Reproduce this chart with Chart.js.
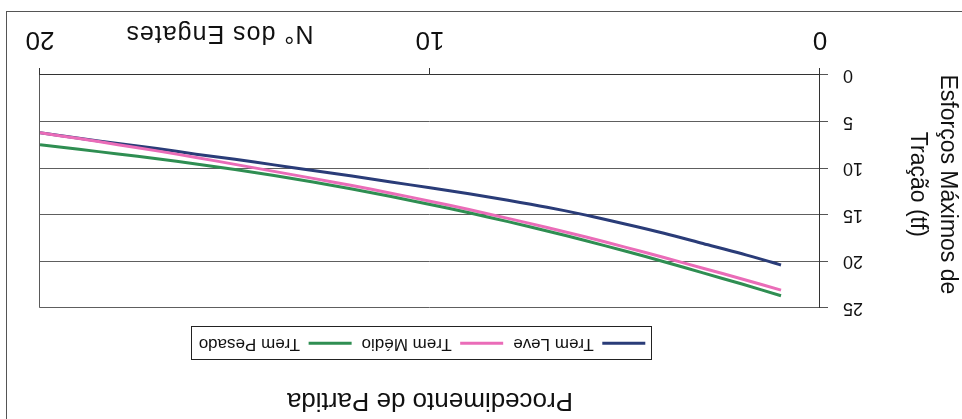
<!DOCTYPE html>
<html lang="pt">
<head>
<meta charset="utf-8">
<title>Procedimento de Partida</title>
<script src="https://cdn.jsdelivr.net/npm/chart.js@4.4.1/dist/chart.umd.min.js"></script>
<style>
  html, body { margin: 0; padding: 0; background: #fff; overflow: hidden; }
  /* the sheet is mounted upside down */
  #chart { display: block; width: 962px; height: 419px; transform: rotate(180deg); transform-origin: 50% 50%; }
</style>
</head>
<body>
<canvas id="chart" width="962" height="419"></canvas>
<script>
// ---- data -------------------------------------------------------------
const engates     = [1, 2, 3, 4, 5, 6, 7, 8, 9, 10, 11, 12, 13, 14, 15, 16, 17, 18, 19, 20];
const tremLeve    = [20.4, 19.2, 18.1, 17.0, 16.0, 15.05, 14.2, 13.45, 12.75, 12.1, 11.5, 10.85, 10.25, 9.65, 9.05, 8.5, 7.9, 7.35, 6.8, 6.2];
const tremMedio   = [23.1, 21.9, 20.75, 19.6, 18.48, 17.4, 16.37, 15.4, 14.45, 13.55, 12.69, 11.87, 11.1, 10.35, 9.6, 8.85, 8.15, 7.48, 6.83, 6.2];
const tremPesado  = [23.7, 22.45, 21.25, 20.05, 18.9, 17.8, 16.75, 15.75, 14.8, 13.9, 13.05, 12.25, 11.5, 10.8, 10.15, 9.55, 9.0, 8.48, 7.98, 7.5];
const seriesNames = ['Trem Leve', 'Trem Médio', 'Trem Pesado'];
const xTickValues = [0, 10, 20];
const yTickValues = [0, 5, 10, 15, 20, 25];
const chartTitle  = 'Procedimento de Partida';
const xAxisTitle  = 'N° dos Engates';
const yAxisTitle  = ['Esforços Máximos de', 'Tração (tf)'];

// ---- styling ----------------------------------------------------------
const FONT = "'Liberation Sans', Arial, Helvetica, sans-serif";
const INK = '#111111';
const seriesColors = ['#2a3c78', '#ea6cb8', '#2f8e52'];

const points = ys => engates.map((x, i) => ({ x, y: ys[i] }));

// white sheet with the outer chart frame
const sheetPlugin = {
  id: 'sheet',
  beforeDraw(chart) {
    const { ctx, width, height } = chart;
    ctx.save();
    ctx.fillStyle = '#ffffff';
    ctx.fillRect(0, 0, width, height);
    ctx.strokeStyle = '#555555';
    ctx.lineWidth = 1;
    ctx.strokeRect(-3.5, -3.5, width - 3, height - 8);
    ctx.restore();
  }
};

// legend sits a little right of the plot centre
const legendOffsetPlugin = {
  id: 'legendOffset',
  afterLayout(chart) {
    const lg = chart.legend;
    if (!lg) return;
    lg.left += 8;
    lg.right += 8;
  }
};

// closing edge of the plot area on the far side of the value axis
const plotEdgePlugin = {
  id: 'plotEdge',
  beforeDatasetsDraw(chart) {
    const { ctx, chartArea: a } = chart;
    ctx.save();
    ctx.strokeStyle = '#5a5a5a';
    ctx.lineWidth = 1;
    ctx.beginPath();
    ctx.moveTo(Math.round(a.right) + 0.5, a.top);
    ctx.lineTo(Math.round(a.right) + 0.5, a.bottom);
    ctx.stroke();
    ctx.restore();
  }
};

// box around the legend entries
const legendFramePlugin = {
  id: 'legendFrame',
  afterDraw(chart) {
    const boxes = chart.legend && chart.legend.legendHitBoxes;
    if (!boxes || !boxes.length) return;
    const first = boxes[0], last = boxes[boxes.length - 1];
    const left = Math.round(first.left - 7) + 0.5;
    const right = Math.round(last.left + last.width + 7) + 0.5;
    const cy = first.top + first.height / 2;
    const top = Math.round(cy - 16.5) + 0.5;
    const { ctx } = chart;
    ctx.save();
    ctx.strokeStyle = '#222222';
    ctx.lineWidth = 1;
    ctx.strokeRect(left, top, right - left, 33);
    ctx.restore();
  }
};

// axis titles
const axisTitlesPlugin = {
  id: 'axisTitles',
  afterDraw(chart) {
    const { ctx } = chart;
    const xs = chart.scales.x, ys = chart.scales.y;
    ctx.save();
    ctx.fillStyle = INK;
    ctx.textAlign = 'center';
    ctx.textBaseline = 'middle';

    ctx.font = `25px ${FONT}`;
    if ('letterSpacing' in ctx) ctx.letterSpacing = '1px';
    ctx.fillText(xAxisTitle, xs.getPixelForValue(15.4), xs.top + 42);
    if ('letterSpacing' in ctx) ctx.letterSpacing = '0px';

    ctx.font = `23px ${FONT}`;
    const cy = (ys.top + ys.bottom) / 2 + 7;
    ctx.translate(0, cy);
    ctx.rotate(-Math.PI / 2);
    yAxisTitle.forEach((line, i) => ctx.fillText(line, 0, 15 + i * 30));
    ctx.restore();
  }
};

new Chart(document.getElementById('chart'), {
  type: 'line',
  data: {
    datasets: [
      { label: seriesNames[0], data: points(tremLeve),   borderColor: seriesColors[0], backgroundColor: seriesColors[0], pointBorderColor: seriesColors[0], order: 3 },
      { label: seriesNames[1], data: points(tremMedio),  borderColor: seriesColors[1], backgroundColor: seriesColors[1], pointBorderColor: seriesColors[1], order: 2 },
      { label: seriesNames[2], data: points(tremPesado), borderColor: seriesColors[2], backgroundColor: seriesColors[2], pointBorderColor: seriesColors[2], order: 1 }
    ]
  },
  options: {
    responsive: false,
    devicePixelRatio: 1,
    animation: false,
    events: [],
    elements: {
      line: { borderWidth: 3, tension: 0.3, borderCapStyle: 'butt' },
      point: { radius: 0, borderWidth: 3 }
    },
    layout: { padding: { left: 0, right: 40, top: 0, bottom: 12 } },
    scales: {
      x: {
        type: 'linear',
        min: 0, max: 20,
        afterBuildTicks: s => { s.ticks = xTickValues.map(value => ({ value })); },
        afterFit: s => { s.height = 63; },
        grid: { drawOnChartArea: false, drawTicks: true, tickLength: 7, color: '#333333', lineWidth: 1 },
        border: { display: true, color: '#333333', width: 1 },
        ticks: { color: INK, padding: 13, maxRotation: 0, font: { family: FONT, size: 26 } }
      },
      y: {
        type: 'linear',
        min: 0, max: 25,
        afterBuildTicks: s => { s.ticks = yTickValues.map(value => ({ value })); },
        afterFit: s => { s.width = 142; },
        grid: { color: '#5e5e5e', lineWidth: 1, drawTicks: true, tickLength: 8, tickColor: '#555555' },
        border: { display: true, color: '#333333', width: 1 },
        ticks: { color: INK, padding: 15, font: { family: FONT, size: 18 } }
      }
    },
    plugins: {
      tooltip: { enabled: false },
      title: {
        display: true,
        text: chartTitle,
        position: 'top',
        fullSize: false,
        color: INK,
        font: { family: FONT, size: 26, weight: 'normal' },
        padding: { top: 3, bottom: 23 }
      },
      legend: {
        display: true,
        position: 'top',
        fullSize: false,
        labels: {
          color: INK,
          font: { family: FONT, size: 17 },
          usePointStyle: true,
          pointStyle: 'line',
          pointStyleWidth: 43,
          padding: 10,
          sort: (a, b) => a.datasetIndex - b.datasetIndex
        }
      },
      // empty band between the legend and the plot
      subtitle: {
        display: true,
        text: '',
        position: 'top',
        fullSize: false,
        weight: 500,
        font: { family: FONT, size: 10 },
        padding: { top: 0, bottom: 5 }
      }
    }
  },
  plugins: [sheetPlugin, legendOffsetPlugin, plotEdgePlugin, legendFramePlugin, axisTitlesPlugin]
});
</script>
</body>
</html>
